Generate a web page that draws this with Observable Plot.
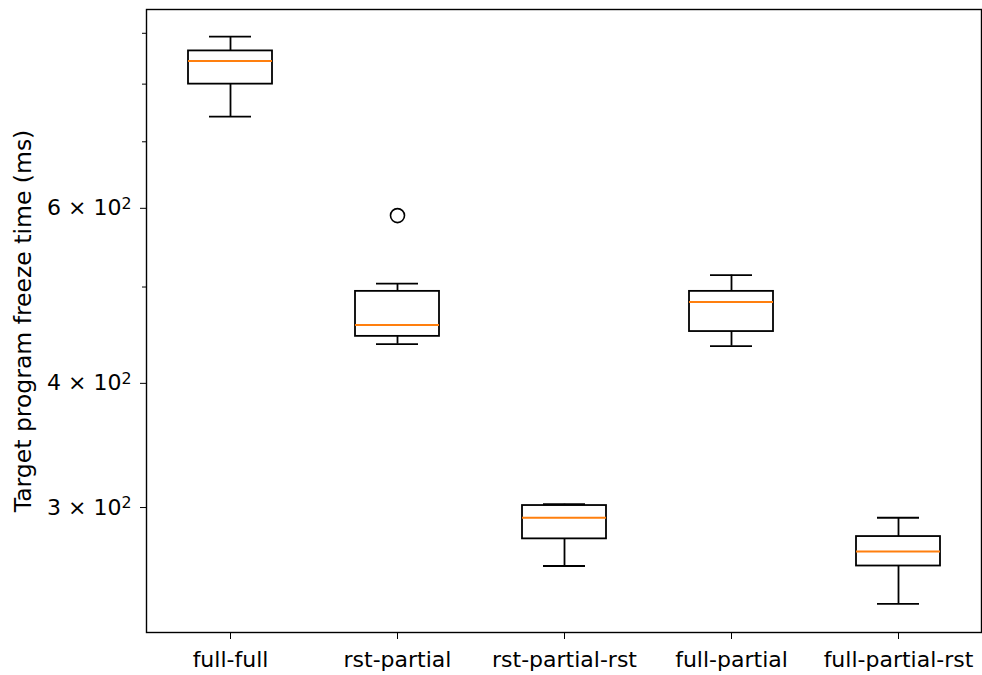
<!DOCTYPE html>
<html>
<head>
<meta charset="utf-8">
<script src="https://cdn.jsdelivr.net/npm/d3@7"></script>
<script src="https://cdn.jsdelivr.net/npm/@observablehq/plot@0.6"></script>
<style>
  html, body { margin: 0; padding: 0; background: #fff; }
  #chart svg { display: block; }
</style>
</head>
<body>
<div id="chart"></div>
<script>
// Categories (x axis)
const categories = ["full-full", "rst-partial", "rst-partial-rst", "full-partial", "full-partial-rst"];
// Box-plot summary statistics (ms)
const whiskerLow  = [742, 438, 262, 436, 240];
const quartile1   = [800, 446, 279, 451, 262];
const median      = [844, 458, 293, 483, 271];
const quartile3   = [864, 495, 301.4, 495, 280.5];
const whiskerHigh = [893, 504, 302.3, 514, 293];
// Outliers
const outlierCats   = ["rst-partial"];
const outlierValues = [590];
// Y ticks
const majorTicks = [300, 400, 600];
const minorTicks = [500, 700, 800, 900];
const yLabel = "Target program freeze time (ms)";

const boxes = categories.map((c, i) => ({
  cat: c, lo: whiskerLow[i], q1: quartile1[i], med: median[i], q3: quartile3[i], hi: whiskerHigh[i]
}));
const outliers = outlierCats.map((c, i) => ({cat: c, value: outlierValues[i]}));

const sw = 1.8;
const fs = 22;
const sci = d => {
  const e = Math.floor(Math.log10(d));
  const m = Math.round(d / Math.pow(10, e));
  return `${m} × 10^${e}`;
};
const chart = Plot.plot({
  width: 982,
  height: 675,
  marginLeft: 146,
  marginRight: 1,
  marginTop: 9,
  marginBottom: 43,
  style: {fontFamily: "DejaVu Sans", fontSize: fs + "px", color: "#000", background: "#fff"},
  x: {type: "band", domain: categories, paddingInner: 0.5, paddingOuter: 0.25},
  y: {type: "log", domain: [224.6, 951]},
  marks: [
    Plot.frame({stroke: "#000", strokeWidth: 1.4}),
    Plot.axisX({tickSize: 7, tickPadding: 12, label: null, fontSize: fs}),
    Plot.axisY({ticks: majorTicks, tickSize: 6, tickPadding: 9, fontSize: fs,
      tickFormat: sci,
      label: yLabel, labelAnchor: "center", labelOffset: 132, labelArrow: false}),
    Plot.axisY({ticks: minorTicks, tickSize: 4, tickFormat: () => "", label: null}),
    Plot.ruleX(boxes, {x: "cat", y1: "lo", y2: "q1", stroke: "#000", strokeWidth: sw}),
    Plot.ruleX(boxes, {x: "cat", y1: "q3", y2: "hi", stroke: "#000", strokeWidth: sw}),
    Plot.tickY(boxes, {x: "cat", y: "lo", insetLeft: 21, insetRight: 21, stroke: "#000", strokeWidth: sw}),
    Plot.tickY(boxes, {x: "cat", y: "hi", insetLeft: 21, insetRight: 21, stroke: "#000", strokeWidth: sw}),
    Plot.barY(boxes, {x: "cat", y1: "q1", y2: "q3", fill: "none", stroke: "#000", strokeWidth: sw}),
    Plot.tickY(boxes, {x: "cat", y: "med", stroke: "#ff7f0e", strokeWidth: 2}),
    Plot.dot(outliers, {x: "cat", y: "value", r: 7, stroke: "#000", fill: "none", strokeWidth: 1.6})
  ]
});
// Render "10^2" as a real superscript, like matplotlib's mathtext
d3.select(chart).selectAll("text").each(function () {
  const t = this.textContent;
  if (!t.includes("^") || this.querySelector("tspan")) return;
  const [base, exp] = t.split("^");
  const sel = d3.select(this);
  sel.text(null);
  sel.append("tspan").text(base);
  sel.append("tspan").attr("dy", "-0.42em").attr("font-size", "72%").text(exp);
});
// Slightly larger y-axis title
d3.select(chart).selectAll("text").filter(function () { return this.textContent === yLabel; })
  .attr("font-size", 23.5);
document.getElementById("chart").appendChild(chart);
</script>
</body>
</html>
